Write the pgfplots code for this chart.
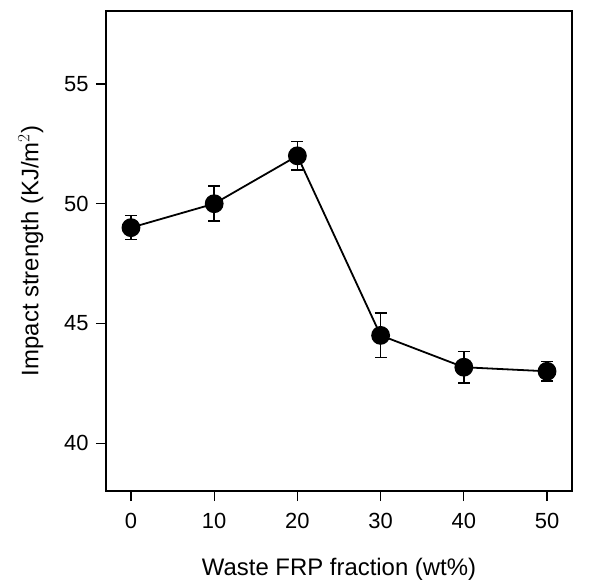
\documentclass[border=0pt]{standalone}
\usepackage{pgfplots}
\pgfplotsset{compat=1.18}
\usepackage{fontspec}
\setmainfont{Liberation Sans}
\begin{document}
\begin{tikzpicture}[x=1bp,y=1bp]
\begin{axis}[
  scale only axis,
  width=466bp, height=480bp,
  at={(0,0)}, anchor=south west,
  xmin=-3, xmax=53, ymin=38, ymax=58.05,
  xtick={0,10,20,30,40,50},
  ytick={40,45,50,55},
  axis line style={line width=1.2bp},
  tick style={line width=1.2bp, black},
  major tick length=10bp,
  tick align=outside,
  xtick pos=bottom, ytick pos=left,
  /pgf/number format/assume math mode=true,
  tick label style={font=\fontsize{22}{22}\selectfont},
  label style={font=\fontsize{24}{24}\selectfont},
  xticklabel style={yshift=-9bp},
  yticklabel style={xshift=-4bp},
  xlabel={Waste FRP fraction (wt\%)},
  ylabel={Impact strength (KJ/m$^2$)},
  xlabel style={yshift=-22bp},
  ylabel style={yshift=14bp},
]
\addplot[black, line width=1.8bp, mark=*, mark size=8.5bp,
  mark options={fill=black, solid},
  error bars/.cd, y dir=both, y explicit,
  error bar style={line width=1.5bp, black},
  error mark options={rotate=90, mark size=6bp, line width=1.5bp, black}]
  coordinates {
  (0,49.0) +- (0,0.5)
  (10,50.0) +- (0,0.73)
  (20,52.0) +- (0,0.6)
  (30,44.5) +- (0,0.93)
  (40,43.17) +- (0,0.65)
  (50,43.0) +- (0,0.4)
  };
\end{axis}
\useasboundingbox (-106,-93) rectangle (484,491);
\end{tikzpicture}
\end{document}
